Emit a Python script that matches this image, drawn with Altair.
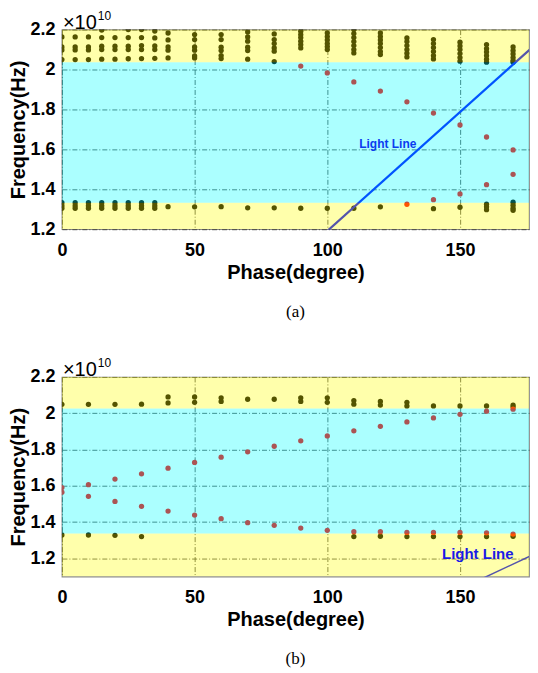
import altair as alt
import pandas as pd

# ---------------- data (frequencies in units of 1e10 Hz) ----------------
# Panel (a)
a_black_upper = {
    0: [2.163, 2.113, 2.098, 2.050],
    5: [2.163, 2.113, 2.098, 2.050],
    10: [2.163, 2.113, 2.098, 2.050],
    15: [2.198, 2.160, 2.117, 2.100, 2.052],
    20: [2.160, 2.117, 2.100, 2.052],
    25: [2.200, 2.160, 2.117, 2.100, 2.054],
    30: [2.200, 2.160, 2.120, 2.100, 2.055],
    35: [2.193, 2.158, 2.118, 2.100, 2.056],
    40: [2.183, 2.148, 2.113, 2.097, 2.058],
    50: [2.175, 2.150, 2.113, 2.097, 2.068, 2.058],
    60: [2.175, 2.150, 2.112, 2.095, 2.070, 2.055],
    70: [2.188, 2.163, 2.142, 2.112, 2.095, 2.052],
    80: [2.178, 2.150, 2.130, 2.108, 2.092, 2.040],
    90: [2.192, 2.175, 2.160, 2.142, 2.125, 2.108],
    100: [2.183, 2.165, 2.148, 2.130, 2.115, 2.100],
    110: [2.200, 2.180, 2.160, 2.140, 2.120, 2.100, 2.083],
    120: [2.183, 2.165, 2.148, 2.130, 2.110, 2.090, 2.075],
    130: [2.158, 2.140, 2.120, 2.100, 2.082, 2.063],
    140: [2.150, 2.130, 2.110, 2.090, 2.070, 2.053],
    150: [2.137, 2.118, 2.100, 2.080, 2.060, 2.042],
    160: [2.125, 2.105, 2.088, 2.070, 2.052, 2.037],
    170: [2.113, 2.095, 2.078, 2.060, 2.045, 2.037],
}
a_black_lower = {
    0: [1.333, 1.318, 1.305], 5: [1.333, 1.318, 1.305], 10: [1.333, 1.318, 1.305],
    15: [1.333, 1.318, 1.305], 20: [1.333, 1.318, 1.305], 25: [1.333, 1.318, 1.305],
    30: [1.333, 1.318, 1.305], 35: [1.333, 1.318, 1.305],
    40: [1.313], 50: [1.312], 60: [1.313], 70: [1.307], 80: [1.307], 90: [1.305],
    100: [1.305], 110: [1.305], 120: [1.312], 140: [1.303], 150: [1.310],
    160: [1.325, 1.312, 1.298], 170: [1.335, 1.320, 1.305, 1.295], 180: [1.330, 1.310],
}
a_red_phase = [90, 100, 110, 120, 130, 140, 150, 160, 170, 180,
               130, 140, 150, 160, 170]
a_red_freq = [2.017, 1.983, 1.938, 1.892, 1.838, 1.782, 1.722, 1.662, 1.597, 1.537,
              1.325, 1.348, 1.377, 1.423, 1.475]
a_band_lo = [1.2, 1.333, 2.037]
a_band_hi = [1.333, 2.037, 2.2]
a_band_color = ["yellow", "cyan", "yellow"]
a_light_phase = [0, 180]
a_light_freq = [0.0, 2.144]
a_light_label = {"phase": 122.8, "freq": 1.625, "text": "Light Line"}

# Panel (b)
b_black_upper = {
    0: [2.049], 10: [2.049], 20: [2.049], 30: [2.050],
    40: [2.090, 2.057], 50: [2.090, 2.060], 60: [2.085, 2.065], 70: [2.077],
    80: [2.077], 90: [2.085, 2.065], 100: [2.085, 2.060], 110: [2.070, 2.050],
    120: [2.065, 2.045], 130: [2.060, 2.040], 140: [2.040], 150: [2.040],
    160: [2.040], 170: [2.045, 2.035],
}
b_black_lower = {
    0: [1.329], 10: [1.329], 20: [1.327], 30: [1.320],
    110: [1.320], 120: [1.322], 130: [1.320], 140: [1.320], 150: [1.320],
    160: [1.320], 170: [1.322],
}
b_red_phase = [0, 10, 20, 30, 40, 50, 60, 70, 80, 90, 100, 110, 120, 130, 140, 150, 160, 170,
               0, 10, 20, 30, 40, 50, 60, 70, 80, 90, 100, 110, 120, 130, 140, 150, 160, 170]
b_red_freq = [1.590, 1.606, 1.637, 1.666, 1.697, 1.729, 1.758, 1.787, 1.818, 1.848,
              1.875, 1.903, 1.928, 1.952, 1.974, 1.994, 2.011, 2.022,
              1.565, 1.542, 1.514, 1.487, 1.461, 1.439, 1.419, 1.397, 1.382, 1.367,
              1.355, 1.347, 1.347, 1.343, 1.343, 1.343, 1.341, 1.334]
b_band_lo = [1.1, 1.337, 2.026]
b_band_hi = [1.337, 2.026, 2.2]
b_band_color = ["yellow", "cyan", "yellow"]
b_light_phase = [0, 180]
b_light_freq = [0.0, 1.2375]
b_light_label = {"phase": 156.7, "freq": 1.223, "text": "Light Line"}

x_ticks = [0, 50, 100, 150]
x_domain = [0, 176]   # visible part of the 0-180 axis (right edge is cropped in the original)
a_y_ticks = [1.2, 1.4, 1.6, 1.8, 2.0, 2.2]
b_y_ticks = [1.2, 1.4, 1.6, 1.8, 2.0, 2.2]

W, H = 468, 200
FONT = "Liberation Sans"


def dots_frame(black_upper, black_lower, red_phase, red_freq):
    rows = []
    for d in (black_upper, black_lower):
        for ph, fs in d.items():
            for f in fs:
                rows.append({"phase": ph, "freq": f, "kind": "black"})
    for ph, f in zip(red_phase, red_freq):
        rows.append({"phase": ph, "freq": f, "kind": "red"})
    return pd.DataFrame(rows)


def panel(black_upper, black_lower, red_phase, red_freq, band_lo, band_hi, band_color,
          light_phase, light_freq, light_label, y_dom, y_ticks, caption, label_size, label_color,
          line_width):
    xs = alt.Scale(domain=x_domain, nice=False, zero=False)
    ys = alt.Scale(domain=y_dom, nice=False, zero=False)

    def xax():
        return alt.Axis(values=x_ticks, title="Phase(degree)", labelPadding=12, titlePadding=3,
                        labelOverlap=False, labelFlush=False)

    def yax():
        return alt.Axis(values=y_ticks, title="Frequency(Hz)", format="~g", labelPadding=7,
                        titlePadding=1, labelOverlap=False, labelFlush=False)

    dots = dots_frame(black_upper, black_lower, red_phase, red_freq)
    base_pts = alt.Chart(dots).mark_circle(size=28, opacity=1, clip=True).encode(
        x=alt.X("phase:Q", scale=xs, axis=xax(), title="Phase(degree)"),
        y=alt.Y("freq:Q", scale=ys, axis=yax(), title="Frequency(Hz)"),
        color=alt.Color("kind:N", scale=alt.Scale(domain=["black", "red"],
                                                   range=["#000000", "#ff0000"]), legend=None),
    )

    line_df = pd.DataFrame({"phase": light_phase, "freq": light_freq})
    light = alt.Chart(line_df).mark_line(color="#0000ff", strokeWidth=line_width, clip=True).encode(
        x=alt.X("phase:Q", scale=xs, axis=xax(), title="Phase(degree)"),
        y=alt.Y("freq:Q", scale=ys, axis=yax(), title="Frequency(Hz)"))

    band_df = pd.DataFrame({"lo": band_lo, "hi": band_hi, "c": band_color,
                            "x0": [0] * 3, "x1": [180] * 3})
    bands = alt.Chart(band_df).mark_rect(opacity=0.33, clip=True).encode(
        x=alt.X("x0:Q", scale=xs, axis=xax(), title="Phase(degree)"), x2="x1:Q",
        y=alt.Y("lo:Q", scale=ys, axis=yax(), title="Frequency(Hz)"), y2="hi:Q",
        color=alt.Color("c:N", scale=alt.Scale(domain=["yellow", "cyan"],
                                               range=["#ffff00", "#00ffff"]), legend=None),
    )

    lbl_df = pd.DataFrame([light_label])
    lbl = alt.Chart(lbl_df).mark_text(font=FONT, fontWeight="bold", fontSize=label_size,
                                      color=label_color).encode(
        x=alt.X("phase:Q", scale=xs, axis=xax(), title="Phase(degree)"),
        y=alt.Y("freq:Q", scale=ys, axis=yax(), title="Frequency(Hz)"),
        text="text:N")

    exp_df = pd.DataFrame({"t": ["×10"], "s": ["10"]})
    times = alt.Chart(exp_df).mark_text(font=FONT, fontSize=20, align="left", baseline="top",
                                        color="black").encode(
        x=alt.value(1), y=alt.value(-17), text="t:N")
    sup = alt.Chart(exp_df).mark_text(font=FONT, fontSize=12, align="left", baseline="top",
                                      color="black").encode(
        x=alt.value(36), y=alt.value(-19), text="s:N")

    return alt.layer(base_pts, light, bands, lbl, times, sup).resolve_scale(color="independent").properties(
        width=W, height=H,
        title=alt.TitleParams(caption, orient="bottom", font="Liberation Serif", fontSize=17,
                              fontWeight="normal", color="black", offset=22, anchor="middle"))


top = panel(a_black_upper, a_black_lower, a_red_phase, a_red_freq, a_band_lo, a_band_hi,
            a_band_color, a_light_phase, a_light_freq, a_light_label, [1.2, 2.2], a_y_ticks,
            "(a)", 12, "#0a3cf0", 2.2)
bottom = panel(b_black_upper, b_black_lower, b_red_phase, b_red_freq, b_band_lo, b_band_hi,
               b_band_color, b_light_phase, b_light_freq, b_light_label, [1.1, 2.2], b_y_ticks,
               "(b)", 15, "#1a1ae6", 1.5)

chart = alt.vconcat(top, bottom, spacing=35).properties(
    padding={"left": 0, "top": 0, "right": 0, "bottom": 0}
).configure_view(stroke="#8a8a8a", strokeWidth=1.2).configure_axis(
    labelFont=FONT, labelFontSize=18, labelFontWeight="bold", labelColor="black",
    titleFont=FONT, titleFontSize=20, titleFontWeight="bold", titleColor="black",
    grid=True, gridColor="#333333", gridDash=[5, 2, 1, 2], gridWidth=0.8, gridOpacity=1,
    ticks=False, domain=False, labelOverlap=False,
)

chart.save("out.html", embed_options={"renderer": "svg", "actions": False})
